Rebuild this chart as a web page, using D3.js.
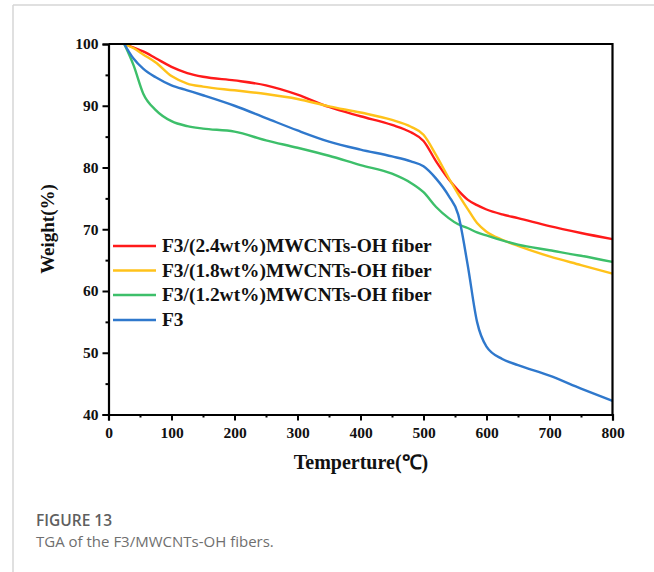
<!DOCTYPE html>
<html><head><meta charset="utf-8">
<script src="https://cdn.jsdelivr.net/npm/d3@7"></script>
<style>
html,body{margin:0;padding:0;background:#fff;}
svg{display:block;}
</style></head>
<body>
<svg id="chart" width="654" height="572"></svg>
<script>
const temps = [25,40,55,75,100,125,150,200,250,300,350,400,450,480,500,520,540,555,570,585,600,625,650,700,750,800];
const w24 = [100,99.4,98.8,97.7,96.3,95.3,94.7,94.1,93.3,91.8,89.8,88.3,86.9,85.7,84.3,81.0,78.1,76.3,74.8,73.9,73.2,72.4,71.8,70.5,69.4,68.4];
const w18 = [100,99.3,98.3,97.0,94.8,93.6,93.1,92.5,91.9,91.1,89.9,88.9,87.7,86.6,85.3,82.0,78.3,75.7,73.3,71.0,69.6,68.3,67.3,65.6,64.2,62.8];
const w12 = [100,96.5,92.0,89.3,87.5,86.7,86.3,85.8,84.4,83.2,81.9,80.4,79.0,77.5,76.0,73.6,71.8,70.8,70.2,69.5,69.0,68.2,67.5,66.6,65.7,64.7];
const wF3 = [100,97.6,96.0,94.6,93.3,92.5,91.7,90.0,88.0,86.0,84.2,82.9,81.8,81.0,80.2,78.2,75.4,72.4,64.3,55.0,51.0,49.0,48.0,46.3,44.2,42.2];
const seriesNames = ["F3/(2.4wt%)MWCNTs-OH fiber","F3/(1.8wt%)MWCNTs-OH fiber","F3/(1.2wt%)MWCNTs-OH fiber","F3"];
const seriesColors = ["#ff1a1a","#ffc21a","#3dbf6a","#2f78cc"];
const seriesValues = [w24,w18,w12,wF3];
const xTicks = [0,100,200,300,400,500,600,700,800];
const yTicks = [40,50,60,70,80,90,100];

const svg = d3.select("#chart");
const L = 108.5, R = 612.5, T = 44, B = 414.5;
const x = d3.scaleLinear().domain([0,800]).range([L,R]);
const y = d3.scaleLinear().domain([40,100]).range([B,T]);
const serif = "'Liberation Serif','Times New Roman',serif";

// page frame
svg.append("line").attr("x1",13).attr("x2",654).attr("y1",5).attr("y2",5).attr("stroke","#d6d6d6").attr("stroke-width",1.5);
svg.append("line").attr("x1",13).attr("x2",13).attr("y1",5).attr("y2",572).attr("stroke","#d6d6d6").attr("stroke-width",1.5);

// lines
const line = d3.line().x((d)=>x(d[0])).y((d)=>y(d[1])).curve(d3.curveMonotoneX);
seriesValues.forEach((vals,i)=>{
  svg.append("path").datum(temps.map((t,j)=>[t,vals[j]]))
    .attr("d",line).attr("fill","none").attr("stroke",seriesColors[i]).attr("stroke-width",2.4);
});

// frame top/right
svg.append("path").attr("d",`M${L},${T}H${R}V${B}`).attr("fill","none").attr("stroke","#000").attr("stroke-width",2.2);

// axes
const xAxis = svg.append("g").attr("transform",`translate(0,${B})`)
  .call(d3.axisBottom(x).tickValues(xTicks).tickSize(6).tickPadding(6).tickFormat(d3.format("d")));
const xMinor = svg.append("g").attr("transform",`translate(0,${B})`)
  .call(d3.axisBottom(x).tickValues(d3.range(50,800,100)).tickSize(3).tickFormat(""));
const yAxis = svg.append("g").attr("transform",`translate(${L},0)`)
  .call(d3.axisLeft(y).tickValues(yTicks).tickSize(6).tickPadding(4).tickFormat(d3.format("d")));
const yMinor = svg.append("g").attr("transform",`translate(${L},0)`)
  .call(d3.axisLeft(y).tickValues(d3.range(45,100,10)).tickSize(3).tickFormat(""));
[xAxis,xMinor,yAxis,yMinor].forEach(g=>{
  g.select(".domain").attr("stroke","#000").attr("stroke-width",2.2);
  g.selectAll(".tick line").attr("stroke","#000").attr("stroke-width",2);
  g.selectAll("text").attr("font-family",serif).attr("font-weight","bold").attr("font-size",15.5).attr("fill","#111");
});
xMinor.select(".domain").remove(); yMinor.select(".domain").remove();

// axis titles
svg.append("text").attr("x",361).attr("y",469).attr("text-anchor","middle")
  .attr("font-family",serif).attr("font-weight","bold").attr("font-size",20).attr("fill","#111").text("Temperture(℃)");
svg.append("text").attr("transform",`translate(54,229) rotate(-90)`).attr("text-anchor","middle")
  .attr("font-family",serif).attr("font-weight","bold").attr("font-size",19).attr("fill","#111").text("Weight(%)");

// legend
const legY = [246,270.5,295,320];
seriesNames.forEach((n,i)=>{
  svg.append("line").attr("x1",113).attr("x2",156).attr("y1",legY[i]).attr("y2",legY[i])
    .attr("stroke",seriesColors[i]).attr("stroke-width",2.4);
  svg.append("text").attr("x",162).attr("y",legY[i]+6)
    .attr("font-family",serif).attr("font-weight","bold").attr("font-size",19.4).attr("fill","#111").text(n);
});

// caption
svg.append("text").attr("x",36).attr("y",526).attr("font-family","'Open Sans',sans-serif").attr("font-weight",600)
  .attr("font-size",15.5).attr("fill","#5f5f5f").text("FIGURE 13");
svg.append("text").attr("x",36).attr("y",547).attr("font-family","'Open Sans',sans-serif")
  .attr("font-size",15).attr("fill","#6f6f6f").text("TGA of the F3/MWCNTs-OH fibers.");
</script>
</body></html>
